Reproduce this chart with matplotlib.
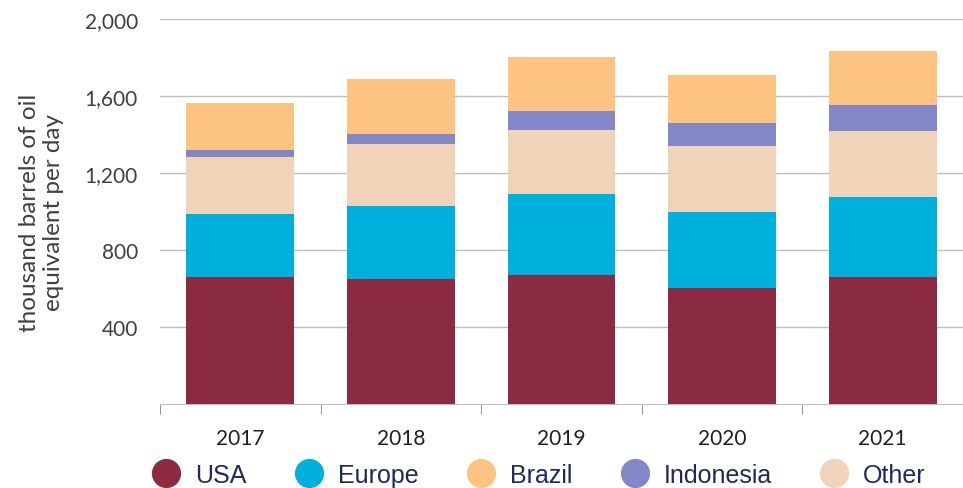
import numpy as np
import matplotlib
matplotlib.use("Agg")
from matplotlib import pyplot as plt
from matplotlib.lines import Line2D

years = ["2017", "2018", "2019", "2020", "2021"]
usa = [660, 651, 669, 605, 660]
europe = [325, 378, 420, 392, 414]
other = [298, 324, 333, 343, 344]
indonesia = [36, 52, 99, 120, 137]
brazil = [247, 282, 284, 248, 279]

# couleurs des series
col = {"USA": "#8A2B42", "Europe": "#00B0DC", "Brazil": "#FDC383",
       "Indonesia": "#8387C8", "Other": "#F0D3B9"}
police = ["Lato", "DejaVu Sans"]

fig = plt.figure(figsize=(9.63, 4.89), dpi=100)
ax = fig.add_axes([160/963, 1-405/489, 803/963, 385/489])

x = np.arange(len(years))
bas = np.zeros(len(years))
# ordre d empilement: USA, Europe, Other, Indonesia, Brazil
for nom, vals in [("USA", usa), ("Europe", europe), ("Other", other),
                  ("Indonesia", indonesia), ("Brazil", brazil)]:
    ax.bar(x, vals, bottom=bas, width=0.67, color=col[nom], zorder=3)
    bas = bas + np.array(vals)

ax.set_xlim(-0.5, len(years) - 0.5)
ax.set_ylim(0, 2000)
ax.set_yticks([400, 800, 1200, 1600, 2000])
ax.set_yticklabels(["400", "800", "1,200", "1,600", "2,000"],
                   fontsize=15, color="#404040", family=police)
ax.tick_params(axis="y", length=0, pad=16)
ax.grid(axis="y", color="#BFBFBF", linewidth=1, zorder=0)
ax.axhline(2000, color="#7F7F7F", linewidth=1.3, zorder=1)

ax.set_xticks(x)
ax.set_xticklabels(years, fontsize=15, color="#202020", family=police)
ax.tick_params(axis="x", length=0, pad=17)
ax.set_xticks(np.arange(-0.5, len(years), 1.0), minor=True)
ax.tick_params(axis="x", which="minor", length=7, color="#808080")

for s in ["top", "right", "left"]:
    ax.spines[s].set_visible(False)
ax.spines["bottom"].set_color("#BFBFBF")

ax.set_ylabel("thousand barrels of oil\nequivalent per day", fontsize=17.5,
              color="#404040", family=police, labelpad=15,
              linespacing=1.15)

handles = [Line2D([], [], marker="o", linestyle="", markersize=20,
                  markerfacecolor=col[n], markeredgecolor=col[n], label=n)
           for n in ["USA", "Europe", "Brazil", "Indonesia", "Other"]]
fig.legend(handles=handles, loc="center", bbox_to_anchor=(539/963, 1-476/489),
           ncol=5, frameon=False, handlelength=1.1, handletextpad=0.6,
           columnspacing=1.95, borderpad=0, labelcolor="#1F2A5A",
           prop={"family": ["Liberation Sans", "DejaVu Sans"], "size": 18})

fig.savefig("out.png", dpi=100)
